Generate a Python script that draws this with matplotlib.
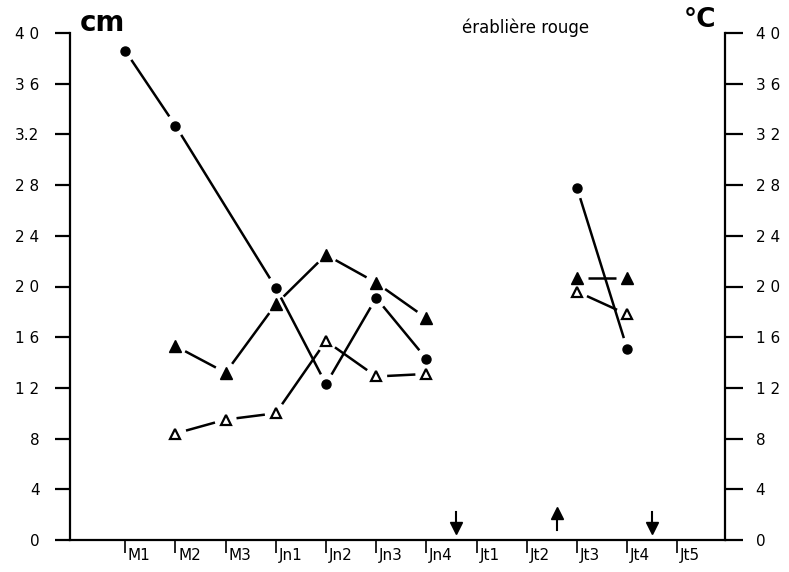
import numpy as np
import matplotlib.pyplot as plt
from matplotlib.transforms import ScaledTranslation

# categories (periods) on the x axis
months = ['M1', 'M2', 'M3', 'Jn1', 'Jn2', 'Jn3', 'Jn4', 'Jt1', 'Jt2', 'Jt3', 'Jt4', 'Jt5']
nan = np.nan
circle_vals = [38.6, 32.7, nan, 19.9, 12.3, 19.1, 14.3, nan, nan, 27.8, 15.1, nan]
tri_filled_vals = [nan, 15.3, 13.2, 18.6, 22.5, 20.3, 17.5, nan, nan, 20.7, 20.7, nan]
tri_open_vals = [nan, 8.4, 9.5, 10.0, 15.7, 12.9, 13.1, nan, nan, 19.6, 17.8, nan]
blocks = [(0, 6), (9, 10)]          # index ranges joined by lines
arrow_down_x = [6.6, 10.5]
arrow_up_x = [8.6]

yticks = [0, 4, 8, 12, 16, 20, 24, 28, 32, 36, 40]
left_labels = ['0', '4', '8', '1 2', '1 6', '2 0', '2 4', '2 8', '3.2', '3 6', '4 0']
right_labels = ['0', '4', '8', '1 2', '1 6', '2 0', '2 4', '2 8', '3 2', '3 6', '4 0']

W, H = 789, 572
fig = plt.figure(figsize=(W / 100, H / 100), dpi=100)
ax = fig.add_axes([70 / W, 32 / H, (725 - 70) / W, (540 - 33) / H])
ax.set_xlim(-1.1, 11.95)
ax.set_ylim(0, 40)


def gapped(ax, xs, ys, gap=11, **kw):
    """Draw line segments between points, leaving a gap round each marker."""
    pts = ax.transData.transform(np.column_stack([xs, ys]))
    inv = ax.transData.inverted()
    for p, q in zip(pts[:-1], pts[1:]):
        d = q - p
        u = d / np.hypot(*d)
        seg = inv.transform([p + u * gap, q - u * gap])
        ax.plot(seg[:, 0], seg[:, 1], color='black', lw=1.8, solid_capstyle='butt', **kw)


series = [
    (circle_vals, dict(marker='o', ms=6.5, mfc='black', mec='black')),
    (tri_filled_vals, dict(marker='^', ms=8, mfc='black', mec='black')),
    (tri_open_vals, dict(marker='^', ms=7, mfc='white', mec='black', mew=1.6)),
]
x = np.arange(len(months))
for vals, mk in series:
    v = np.array(vals)
    for a, b in blocks:
        xs, ys = x[a:b + 1], v[a:b + 1]
        ok = ~np.isnan(ys)
        gapped(ax, xs[ok], ys[ok])
    ax.plot(x, v, ls='none', zorder=4, **mk)

# arrows above the x axis
for xa in arrow_down_x:
    ax.plot([xa, xa], [1.45, 2.2], color='black', lw=1.5)
    ax.plot(xa, 0.95, marker='v', ms=8, color='black', clip_on=False)
for xa in arrow_up_x:
    ax.plot([xa, xa], [0.8, 1.5], color='black', lw=1.5)
    ax.plot(xa, 2.1, marker='^', ms=8, color='black')

# axes styling
for s in ['top', 'right']:
    ax.spines[s].set_visible(False)
for s in ['left', 'bottom']:
    ax.spines[s].set_linewidth(1.6)
ax.set_yticks(yticks)
ax.set_yticklabels(left_labels, fontsize=11)
ax.tick_params(axis='y', direction='out', length=11, width=1.6, pad=11)
ax.set_xticks(x)
ax.set_xticklabels(months, ha='left', fontsize=11)
ax.tick_params(axis='x', direction='out', length=9, width=1.2, pad=-3)
for lbl in ax.get_xticklabels():
    lbl.set_transform(lbl.get_transform() + ScaledTranslation(2 / 72, 0, fig.dpi_scale_trans))

ax2 = ax.twinx()
ax2.set_ylim(0, 40)
for s in ['top', 'left', 'bottom']:
    ax2.spines[s].set_visible(False)
ax2.spines['right'].set_linewidth(1.6)
ax2.set_yticks(yticks)
ax2.set_yticklabels(right_labels, fontsize=11)
ax2.tick_params(axis='y', direction='out', length=13, width=1.6, pad=9)

fig.text(80 / W, 1 - 23 / H, 'cm', fontsize=20, fontweight='bold', ha='left', va='center')
fig.text(716 / W, 1 - 20 / H, '°C', fontsize=19, fontweight='bold', ha='right', va='center')
fig.text(526 / W, 1 - 28 / H, 'érablière rouge', fontsize=12, ha='center', va='center')

fig.savefig('out.png', dpi=100)
